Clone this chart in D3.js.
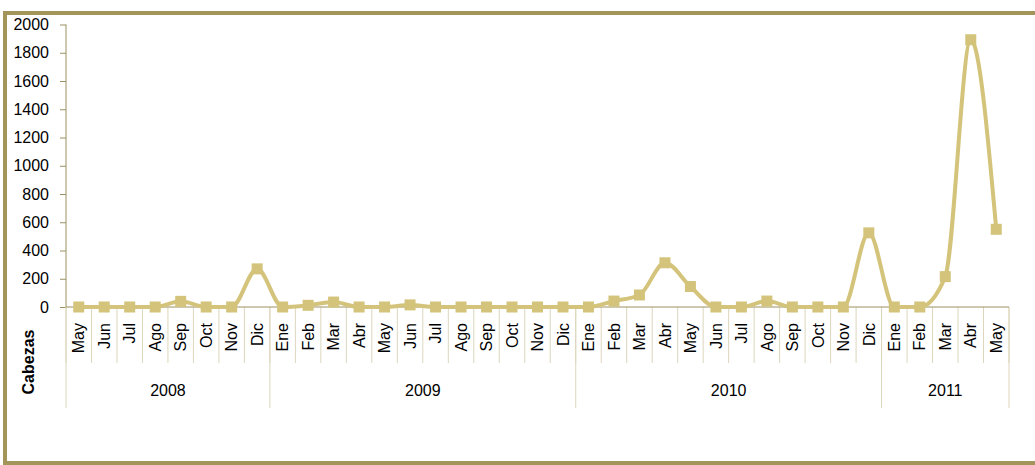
<!DOCTYPE html>
<html>
<head>
<meta charset="utf-8">
<script src="https://cdn.jsdelivr.net/npm/d3@7"></script>
<style>
  body { margin: 0; background: #fff; }
  svg text { font-family: "Liberation Sans", Arial, sans-serif; fill: #000; }
</style>
</head>
<body>
<div id="chart"></div>
<script>
const years = ["2008", "2009", "2010", "2011"];
const months2008 = ["May", "Jun", "Jul", "Ago", "Sep", "Oct", "Nov", "Dic"];
const months2009 = ["Ene", "Feb", "Mar", "Abr", "May", "Jun", "Jul", "Ago", "Sep", "Oct", "Nov", "Dic"];
const months2010 = ["Ene", "Feb", "Mar", "Abr", "May", "Jun", "Jul", "Ago", "Sep", "Oct", "Nov", "Dic"];
const months2011 = ["Ene", "Feb", "Mar", "Abr", "May"];

const values2008 = [0, 0, 0, 0, 40, 0, 0, 270];
const values2009 = [0, 12, 35, 0, 0, 15, 0, 0, 0, 0, 0, 0];
const values2010 = [0, 42, 85, 313, 145, 0, 0, 42, 0, 0, 0, 525];
const values2011 = [0, 0, 215, 1892, 550];

const yTicks = [0, 200, 400, 600, 800, 1000, 1200, 1400, 1600, 1800, 2000];

const W = 1035, H = 465;
const plot = { left: 66, right: 1009, top: 24.5, bottom: 307 };
const lineColor = "#d4c47b";
const axisColor = "#9c9063";
const divColor = "#dcd6bc";
const fontSize = 16;

const monthGroups = [months2008, months2009, months2010, months2011];
const valueGroups = [values2008, values2009, values2010, values2011];
const points = [];
monthGroups.forEach((ms, gi) => {
  ms.forEach((m, mi) => points.push({ key: `${years[gi]}-${m}`, month: m, year: years[gi], value: valueGroups[gi][mi] }));
});

const svg = d3.select("#chart").append("svg").attr("width", W).attr("height", H);

// outer frame (right side runs off the page)
svg.append("rect")
  .attr("x", 5).attr("y", 13).attr("width", W + 10).attr("height", 450)
  .attr("fill", "none").attr("stroke", "#a39559").attr("stroke-width", 4);

const x = d3.scaleBand().domain(points.map((d) => d.key)).range([plot.left, plot.right]).padding(0);
const y = d3.scaleLinear().domain([0, 2000]).range([plot.bottom, plot.top]);

// y axis
const yAxis = svg.append("g")
  .attr("transform", `translate(${plot.left},0)`)
  .call(d3.axisLeft(y).tickValues(yTicks).tickSize(6).tickPadding(11).tickFormat(d3.format("d")));
yAxis.select(".domain").attr("stroke", axisColor).attr("d", `M0,${plot.top}V${plot.bottom}`);
yAxis.selectAll(".tick line").attr("stroke", axisColor);
yAxis.selectAll(".tick text")
  .attr("font-size", fontSize)
  .attr("font-family", "Liberation Sans, Arial, sans-serif")
  .attr("fill", "#000");

// category dividers
const bounds = points.map((d) => x(d.key)).concat([plot.right]);
svg.append("g").selectAll("line").data(bounds).join("line")
  .attr("x1", (d) => d).attr("x2", (d) => d)
  .attr("y1", plot.bottom).attr("y2", 363)
  .attr("stroke", divColor).attr("stroke-width", 1);

// year dividers
const yearStarts = years.map((yr) => x(points.find((p) => p.year === yr).key)).concat([plot.right]);
svg.append("g").selectAll("line").data(yearStarts).join("line")
  .attr("x1", (d) => d).attr("x2", (d) => d)
  .attr("y1", plot.bottom).attr("y2", 408)
  .attr("stroke", divColor).attr("stroke-width", 1);

// x axis line
svg.append("line")
  .attr("x1", plot.left).attr("x2", plot.right)
  .attr("y1", plot.bottom).attr("y2", plot.bottom)
  .attr("stroke", axisColor).attr("stroke-width", 1);

// month labels
svg.append("g").selectAll("text").data(points).join("text")
  .attr("transform", (d) => `translate(${x(d.key) + x.bandwidth() / 2 + 5.7},323) rotate(-90)`)
  .attr("text-anchor", "end")
  .attr("font-size", fontSize)
  .text((d) => d.month);

// year labels
svg.append("g").selectAll("text").data(years).join("text")
  .attr("x", (d, i) => (yearStarts[i] + yearStarts[i + 1]) / 2)
  .attr("y", 396)
  .attr("text-anchor", "middle")
  .attr("font-size", fontSize)
  .text((d) => d);

// axis title
svg.append("text")
  .attr("transform", "translate(34,362) rotate(-90)")
  .attr("text-anchor", "middle")
  .attr("font-size", fontSize)
  .attr("font-weight", "bold")
  .text("Cabezas");

// series line
const line = d3.line()
  .x((d) => x(d.key) + x.bandwidth() / 2)
  .y((d) => y(d.value))
  .curve(d3.curveMonotoneX);

svg.append("path")
  .datum(points)
  .attr("d", line)
  .attr("fill", "none")
  .attr("stroke", lineColor)
  .attr("stroke-width", 4)
  .attr("stroke-linejoin", "round");

const ms = 11;
svg.append("g").selectAll("rect").data(points).join("rect")
  .attr("x", (d) => x(d.key) + x.bandwidth() / 2 - ms / 2)
  .attr("y", (d) => y(d.value) - ms / 2)
  .attr("width", ms).attr("height", ms)
  .attr("fill", lineColor);
</script>
</body>
</html>
